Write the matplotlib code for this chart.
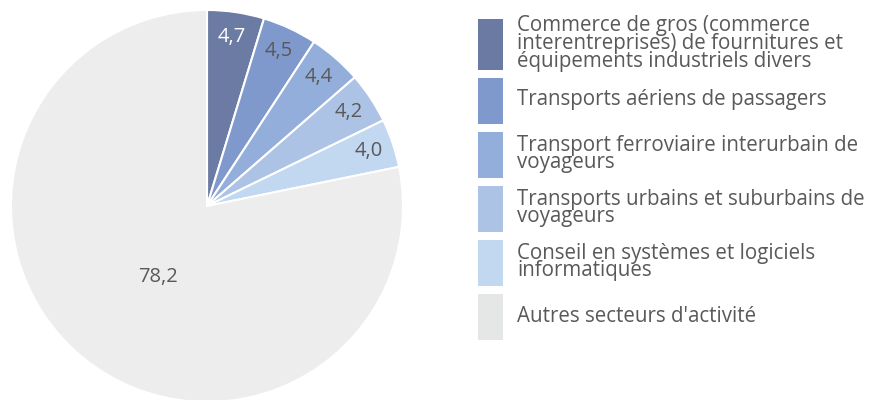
import numpy as np
import matplotlib as mpl
from matplotlib import pyplot as plt
from matplotlib.patches import Rectangle

mpl.rcParams["font.family"] = ["Open Sans", "DejaVu Sans"]

sectors = [
    "Commerce de gros (commerce\ninterentreprises) de fournitures et\néquipements industriels divers",
    "Transports aériens de passagers",
    "Transport ferroviaire interurbain de\nvoyageurs",
    "Transports urbains et suburbains de\nvoyageurs",
    "Conseil en systèmes et logiciels\ninformatiques",
    "Autres secteurs d'activité",
]
shares = [4.7, 4.5, 4.4, 4.2, 4.0, 78.2]
colors = ["#6b7ba3", "#7f99cc", "#94aedb", "#adc3e5", "#c2d7f0", "#ededed"]
legend_colors = ["#6a7aa2", "#7f99cc", "#94aedb", "#adc3e5", "#c2d7f0", "#e5e6e6"]
label_colors = ["white", "#595959", "#595959", "#595959", "#595959", "#595959"]

W, H = 871, 400
fig = plt.figure(figsize=(W / 100, H / 100), dpi=100)

# pie axes: centre (207, 206) px from top-left, radius 196 px
cx, cy, r = 207, 206, 196
ax = fig.add_axes([(cx - r) / W, (H - cy - r) / H, 2 * r / W, 2 * r / H])
wedges, _ = ax.pie(
    shares,
    colors=colors,
    startangle=90,
    counterclock=False,
    radius=1,
    wedgeprops={"edgecolor": "white", "linewidth": 1.5},
)
for w, val, tc in zip(wedges, shares, label_colors):
    mid = np.deg2rad((w.theta1 + w.theta2) / 2)
    rr = 0.44 if val > 50 else 0.87
    ax.text(
        rr * np.cos(mid) + (0.03 if val > 50 else 0),
        rr * np.sin(mid) - (0.02 if val > 50 else 0),
        f"{val:.1f}".replace(".", ","),
        ha="center",
        va="center",
        color=tc,
        fontsize=14.5,
    )
ax.set_xlim(-1, 1)
ax.set_ylim(-1, 1)
ax.set_aspect("equal")
ax.axis("off")

# legend drawn in pixel space
lax = fig.add_axes([0, 0, 1, 1])
lax.set_xlim(0, W)
lax.set_ylim(H, 0)
lax.axis("off")
y = 19
for name, col in zip(sectors, legend_colors):
    nlines = name.count("\n") + 1
    h = 51 if nlines == 3 else 46
    lax.add_patch(Rectangle((478, y), 25, h, facecolor=col, edgecolor="none"))
    lax.text(517, y + h / 2 - 1, name, va="center", ha="left", color="#595959",
             fontsize=14.8, linespacing=0.8)
    y += h + 8

fig.savefig("out.png", dpi=100)
plt.close(fig)
